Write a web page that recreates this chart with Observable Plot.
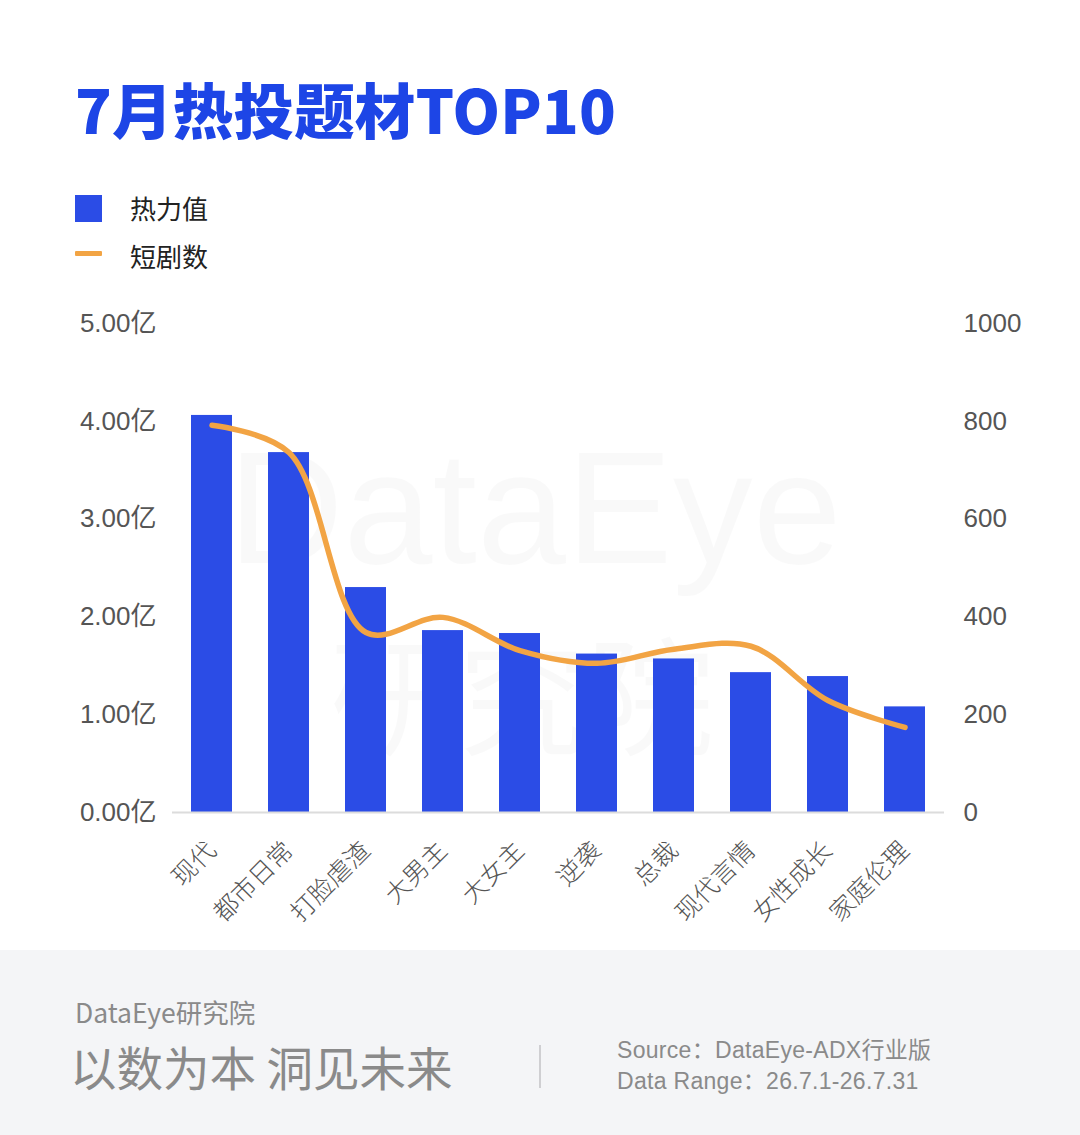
<!DOCTYPE html>
<html>
<head>
<meta charset="utf-8">
<script src="https://cdn.jsdelivr.net/npm/d3@7"></script>
<script src="https://cdn.jsdelivr.net/npm/@observablehq/plot@0.6"></script>
<style>
  html, body { margin: 0; padding: 0; background: #ffffff; }
  body { width: 1080px; height: 1135px; position: relative; overflow: hidden;
         font-family: "Noto Sans CJK SC", "Noto Sans", sans-serif; }
  #title { position: absolute; left: 75px; top: 78px; font-size: 60.5px; font-weight: 900;
           color: #1d45e6; letter-spacing: 0.2px; line-height: 1; white-space: nowrap; }
  .leg { position: absolute; left: 75px; font-size: 26px; color: #222; }
  .leg .sw { position: absolute; left: 0; }
  .leg .lab { position: absolute; left: 55px; top: 0; line-height: 1; white-space: nowrap; }
  #wm { position: absolute; left: 0; top: 0; width: 1080px; pointer-events: none; color: rgba(0,0,0,0.025); }
  #chart { position: absolute; left: 0; top: 290px; }
  #footer { position: absolute; left: 0; top: 950px; width: 1080px; height: 185px; background: #f4f5f7; }
  .ft { position: absolute; color: #8a8a8a; white-space: nowrap; line-height: 1; }
  .src { font-family: "Liberation Sans", "Noto Sans CJK SC", sans-serif; font-size: 23px; letter-spacing: 0.3px; }
</style>
</head>
<body>
<div id="wm">
  <div style="position:absolute;left:228px;top:418px;font-size:160px;line-height:1.12;font-family:'Liberation Sans','Noto Sans';">DataEye</div>
  <div style="position:absolute;left:330px;top:598px;font-size:128px;line-height:1.45;">研究院</div>
</div>
<div id="title">7月热投题材TOP10</div>
<div class="leg" style="top:195px;">
  <div class="sw" style="top:0;width:27px;height:27px;background:#2b4ce6;"></div>
  <div class="lab" style="top:0px;">热力值</div>
</div>
<div class="leg" style="top:243px;">
  <div class="sw" style="top:8px;width:27px;height:5px;background:#f2a444;border-radius:1px;"></div>
  <div class="lab" style="top:0px;">短剧数</div>
</div>
<div id="chart"></div>
<div id="footer">
  <div class="ft" style="left:75px;top:49px;font-size:26.5px;">DataEye研究院</div>
  <div class="ft" style="left:70px;top:93px;font-size:46.5px;">以数为本 洞见未来</div>
  <div style="position:absolute;left:539px;top:95px;width:1.5px;height:43px;background:#cfcfd2;"></div>
  <div class="ft src" style="left:617px;top:89px;">Source：DataEye-ADX行业版</div>
  <div class="ft src" style="left:617px;top:120px;">Data Range：26.7.1-26.7.31</div>
</div>
<script>
const categories = ["现代","都市日常","打脸虐渣","大男主","大女主","逆袭","总裁","现代言情","女性成长","家庭伦理"];
const heatValues = [4.06, 3.68, 2.30, 1.86, 1.83, 1.62, 1.57, 1.43, 1.39, 1.08]; // 亿
const dramaCounts = [792, 736, 368, 399, 331, 305, 334, 340, 229, 174];
const leftTicks = [0, 1, 2, 3, 4, 5];
const rightTicks = [0, 200, 400, 600, 800, 1000];
const rightMax = 1000, leftMax = 5;

const data = categories.map((c, i) => ({cat: c, heat: heatValues[i], count: dramaCounts[i], countScaled: dramaCounts[i] * leftMax / rightMax}));

const numFont = "'Liberation Sans', 'Noto Sans CJK SC', sans-serif";

const chart = Plot.plot({
  width: 1080,
  height: 660,
  marginLeft: 172,
  marginRight: 136,
  marginTop: 33,
  marginBottom: 138,
  style: {fontFamily: "'Noto Sans CJK SC', 'Noto Sans', sans-serif", fontSize: "25px", background: "transparent", overflow: "visible"},
  x: {domain: categories, paddingInner: 0.47, paddingOuter: 0.235},
  y: {domain: [0, leftMax]},
  marks: [
    Plot.barY(data, {x: "cat", y: "heat", fill: "#2b4ce6"}),
    Plot.ruleY([0], {stroke: "#dcdcdc", strokeWidth: 2}),
    Plot.lineY(data, {x: "cat", y: "countScaled", stroke: "#f2a444", strokeWidth: 5.5, curve: "catmull-rom", strokeLinecap: "round"}),
    Plot.axisY({ticks: leftTicks, tickFormat: d => d.toFixed(2) + "亿", tickSize: 0, tickPadding: 16, label: null, fill: "#555", fontSize: 26, fontFamily: numFont}),
    Plot.axisY({anchor: "right", ticks: rightTicks.map(v => v * leftMax / rightMax), tickFormat: (d, i) => String(rightTicks[i]), tickSize: 0, tickPadding: 19, label: null, fill: "#555", fontSize: 26, fontFamily: numFont}),
    Plot.axisX({tickRotate: -45, tickSize: 0, tickPadding: 34, label: null, fill: "#555", fontSize: 25, fontWeight: 300})
  ]
});
document.getElementById("chart").appendChild(chart);
</script>
</body>
</html>
